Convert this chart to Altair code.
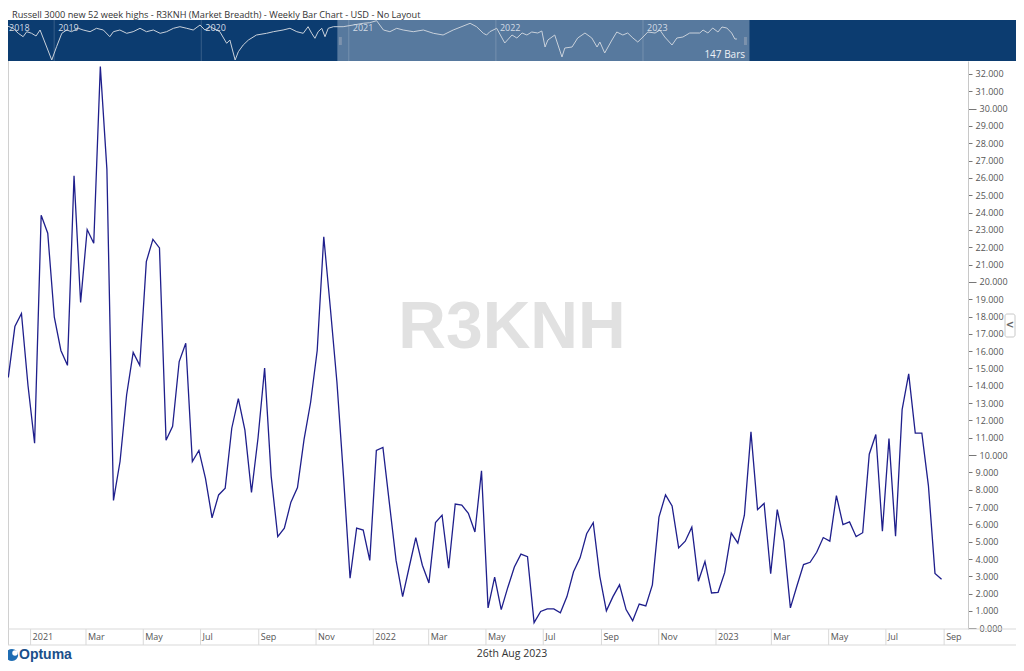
import altair as alt
import pandas as pd

# ---------------- data ----------------
title_text = "Russell 3000 new 52 week highs - R3KNH (Market Breadth) - Weekly Bar Chart - USD - No Layout"
watermark_text = "R3KNH"
bars_text = "147 Bars"
cursor_date_text = "26th Aug 2023"
logo_text = "Optuma"

first_week = "2020-12-04"
r3knh_values = [
    14.48, 17.42, 18.17, 14.00, 10.69, 23.84, 22.81, 17.96, 16.04, 15.18,
    26.12, 18.81, 23.02, 22.23, 32.43, 26.51, 7.38, 9.63, 13.47, 15.93,
    15.18, 21.17, 22.45, 21.96, 10.86, 11.66, 15.40, 16.46, 9.63, 10.27,
    8.66, 6.38, 7.70, 8.09, 11.55, 13.26,
    11.44, 7.85, 11.00, 15.03, 8.77, 5.29, 5.78, 7.28, 8.13, 10.91,
    13.05, 16.04, 22.60, 18.49, 14.22, 8.77, 2.89, 5.78, 5.67, 3.92,
    10.27, 10.44, 7.17, 3.92, 1.83, 3.54, 5.24, 3.64, 2.62, 6.10,
    6.53, 3.47, 7.17, 7.11, 6.64, 5.56,
    9.09, 1.18, 2.96, 1.08, 2.36, 3.54, 4.28, 4.13, 0.33, 0.97,
    1.12, 1.12, 0.90, 1.83, 3.26, 4.07, 5.46, 6.10, 3.00, 1.01,
    1.83, 2.51, 1.08, 0.44, 1.40, 1.29, 2.51, 6.42, 7.70, 7.06,
    4.64, 5.03, 5.84, 2.72, 3.86,
    2.04, 2.08, 3.21, 5.50, 4.92, 6.53, 11.34, 6.85, 7.21, 3.15,
    6.85, 5.03, 1.18, 2.46, 3.68, 3.81, 4.39, 5.24, 5.03, 7.66,
    5.99, 6.14, 5.29, 5.52, 10.05, 11.19, 5.61, 10.95, 5.31, 12.62,
    14.69, 11.27, 11.27, 8.24, 3.17, 2.83,
]

month_ticks = [
    "2021-01-01", "2021-03-01", "2021-05-01", "2021-07-01", "2021-09-01", "2021-11-01",
    "2022-01-01", "2022-03-01", "2022-05-01", "2022-07-01", "2022-09-01", "2022-11-01",
    "2023-01-01", "2023-03-01", "2023-05-01", "2023-07-01", "2023-09-01",
]
month_labels = [
    "2021", "Mar", "May", "Jul", "Sep", "Nov",
    "2022", "Mar", "May", "Jul", "Sep", "Nov",
    "2023", "Mar", "May", "Jul", "Sep",
]
y_ticks = list(range(0, 33))

# visible range of the main chart (also the highlighted window in the navigator)
view_start = "2020-12-03 16:00"
view_end = "2023-09-22 04:00"

# navigator (overview) series, relative level as read from the strip
nav_dates = [
    "2018-09-01", "2018-09-21", "2018-10-04", "2018-10-16", "2018-10-25", "2018-11-06",
    "2018-11-17", "2018-11-27", "2018-12-26", "2019-01-07", "2019-01-20", "2019-02-01",
    "2019-02-13", "2019-03-02", "2019-03-14", "2019-03-31", "2019-04-16", "2019-05-03",
    "2019-05-19", "2019-05-28", "2019-06-13", "2019-06-30", "2019-07-16", "2019-08-02",
    "2019-08-18", "2019-09-04", "2019-09-21", "2019-10-07", "2019-10-24", "2019-11-09",
    "2019-11-26", "2019-12-12", "2019-12-29", "2020-01-10", "2020-01-23", "2020-02-16",
    "2020-03-04", "2020-03-12", "2020-03-25", "2020-04-02", "2020-04-14", "2020-04-27",
    "2020-05-17", "2020-06-11", "2020-06-28", "2020-07-22", "2020-08-08", "2020-08-25",
    "2020-09-10", "2020-09-22", "2020-10-01", "2020-10-09", "2020-10-17", "2020-10-26",
    "2020-11-03", "2020-11-11", "2020-11-24", "2020-12-18", "2021-01-12", "2021-02-06",
    "2021-02-22", "2021-03-11", "2021-03-28", "2021-04-13", "2021-04-30", "2021-05-16",
    "2021-06-10", "2021-07-05", "2021-07-30", "2021-08-23", "2021-09-17", "2021-10-04",
    "2021-10-29", "2021-11-14", "2021-12-01", "2021-12-09", "2021-12-17", "2022-01-03",
    "2022-01-23", "2022-02-10", "2022-02-22", "2022-03-07", "2022-03-19", "2022-03-31",
    "2022-04-15", "2022-04-25", "2022-05-03", "2022-05-10", "2022-05-27", "2022-06-14",
    "2022-06-21", "2022-07-09", "2022-07-23", "2022-08-10", "2022-08-27", "2022-09-09",
    "2022-09-16", "2022-09-28", "2022-10-16", "2022-10-28", "2022-11-12", "2022-11-24",
    "2022-12-07", "2022-12-19", "2023-01-01", "2023-01-13", "2023-01-31", "2023-02-12",
    "2023-02-24", "2023-03-14", "2023-03-26", "2023-04-10", "2023-04-27", "2023-05-22",
    "2023-05-30", "2023-06-11", "2023-06-23", "2023-07-06", "2023-07-16", "2023-07-28",
    "2023-08-09", "2023-08-17", "2023-08-22",
]
nav_values = [
    37.0, 33.7, 28.7, 25.3, 30.3, 28.7,
    26.0, 32.0, 2.0, 15.3, 28.7, 32.0,
    30.3, 33.7, 32.0, 30.3, 33.7, 32.0,
    25.3, 30.3, 32.0, 28.7, 30.3, 33.7,
    30.3, 32.0, 28.7, 30.3, 33.7, 35.3,
    33.7, 32.0, 37.0, 32.0, 35.3, 30.3,
    18.7, 22.0, 2.0, 10.3, 17.0, 22.0,
    27.0, 28.7, 30.3, 32.0, 33.7, 30.3,
    28.7, 35.3, 28.7, 23.7, 30.3, 33.7,
    25.3, 33.7, 35.3, 35.3, 37.0, 38.7,
    39.3, 41.3, 32.0, 30.3, 33.7, 32.0,
    30.3, 32.0, 28.7, 27.0, 32.0, 34.7,
    38.7, 35.3, 28.7, 27.0, 30.3, 33.7,
    19.0, 27.0, 24.0, 29.0, 27.0, 30.0,
    29.0, 31.0, 15.0, 22.0, 27.0, 5.0,
    14.0, 15.0, 24.0, 29.0, 24.0, 15.0,
    20.0, 9.0, 22.0, 30.0, 27.0, 29.0,
    24.0, 20.0, 25.0, 30.0, 29.0, 32.0,
    25.0, 17.0, 24.0, 25.0, 29.0, 29.0,
    32.0, 29.0, 34.0, 30.0, 35.0, 34.0,
    29.0, 23.0, 23.0,
]
nav_start = "2018-09-01"
nav_end = "2025-07-17"
nav_year_ticks = ["2019-01-01", "2020-01-01", "2021-01-01", "2022-01-01", "2023-01-01"]
nav_label_dates = ["2018-09-01", "2019-01-01", "2020-01-01", "2021-01-01", "2022-01-01", "2023-01-01"]
nav_labels = ["2018", "2019", "2020", "2021", "2022", "2023"]

# ---------------- styles ----------------
W, H = 960, 568
NAV_DARK = "#0c3c70"
NAV_LIGHT = "#57799e"
LINE_COLOR = "#1f1f8c"
GRID_GREY = "#d9d9d9"
TXT = "#555555"
FONT = "Open Sans"


def dt(s):
    t = pd.Timestamp(s)
    return alt.DateTime(year=t.year, month=t.month, date=t.day, hours=t.hour, minutes=t.minute)


main_x = alt.Scale(domain=[dt(view_start), dt(view_end)])
nav_x = alt.Scale(domain=[dt(nav_start), dt(nav_end)], range=[-3, 1009])

one = pd.DataFrame({"k": [0]})
main_df = pd.DataFrame({
    "date": pd.date_range(first_week, periods=len(r3knh_values), freq="7D"),
    "value": r3knh_values,
})
tick_df = pd.DataFrame({"date": pd.to_datetime(month_ticks), "label": month_labels})
nav_df = pd.DataFrame({"date": pd.to_datetime(nav_dates), "value": nav_values})
nav_year_df = pd.DataFrame({"date": pd.to_datetime(nav_year_ticks)})
nav_lab_df = pd.DataFrame({"date": pd.to_datetime(nav_label_dates), "label": nav_labels})
sel_df = pd.DataFrame({"start": [pd.Timestamp(view_start)], "end": [pd.Timestamp(view_end)]})

# ---------------- layers ----------------
title = alt.Chart(one).mark_text(
    text=title_text, align="left", baseline="alphabetic", fontSize=9.2, font=FONT, color="#333333"
).encode(x=alt.value(4), y=alt.value(-43))

nav_bg = alt.Chart(one).mark_rect(color=NAV_DARK).encode(
    x=alt.value(-3), x2=alt.value(1009), y=alt.value(-41), y2=alt.value(0))

nav_sel = alt.Chart(sel_df).mark_rect(color=NAV_LIGHT).encode(
    x=alt.X("start:T", scale=nav_x, axis=None), x2="end:T", y=alt.value(-41), y2=alt.value(0))

nav_grid = alt.Chart(nav_year_df).mark_rule(color="white", opacity=0.18).encode(
    x=alt.X("date:T", scale=nav_x, axis=None), y=alt.value(-41), y2=alt.value(0))

nav_line = alt.Chart(nav_df).mark_line(color="#c9d1db", strokeWidth=1).encode(
    x=alt.X("date:T", scale=nav_x, axis=None),
    y=alt.Y("value:Q", scale=alt.Scale(domain=[0, 40], range=[1, -39]), axis=None))

nav_text = alt.Chart(nav_lab_df).mark_text(
    align="left", baseline="middle", dx=4, fontSize=9, font=FONT, color="#d3dbe5"
).encode(x=alt.X("date:T", scale=nav_x, axis=None), y=alt.value(-33.5), text="label:N")

handle_l = alt.Chart(sel_df).mark_tick(color="#8c9db3", thickness=3, size=8, xOffset=3).encode(
    x=alt.X("start:T", scale=nav_x, axis=None), y=alt.value(-20))
handle_r = alt.Chart(sel_df).mark_tick(color="#8c9db3", thickness=3, size=8, xOffset=-4).encode(
    x=alt.X("end:T", scale=nav_x, axis=None), y=alt.value(-20))

bars_lab = alt.Chart(one).mark_text(
    text=bars_text, align="right", baseline="middle", fontSize=10, font=FONT, color="#eef2f6"
).encode(x=alt.value(737), y=alt.value(-6))

watermark = alt.Chart(one).mark_text(
    text=watermark_text, align="center", baseline="alphabetic", fontSize=66,
    font="Liberation Sans", fontWeight="bold", color="#e1e1e1"
).encode(x=alt.value(504), y=alt.value(287))

left_border = alt.Chart(one).mark_rule(color="#d0d0d0").encode(
    x=alt.value(0.5), y=alt.value(0), y2=alt.value(584))

row_top = alt.Chart(one).mark_rule(color=GRID_GREY).encode(
    x=alt.value(-3), x2=alt.value(1009), y=alt.value(568))
row_bot = alt.Chart(one).mark_rule(color=GRID_GREY).encode(
    x=alt.value(-3), x2=alt.value(1009), y=alt.value(584))

separators = alt.Chart(tick_df).mark_rule(color=GRID_GREY, xOffset=-4).encode(
    x=alt.X("date:T", scale=main_x, axis=None), y=alt.value(568), y2=alt.value(584))

month_text = alt.Chart(tick_df).mark_text(
    align="left", baseline="middle", dx=-2, fontSize=9, font=FONT, color=TXT
).encode(x=alt.X("date:T", scale=main_x, axis=None), y=alt.value(576), text="label:N")

line = alt.Chart(main_df).mark_line(color=LINE_COLOR, strokeWidth=1.3, clip=True).encode(
    x=alt.X("date:T", scale=main_x, axis=None),
    y=alt.Y("value:Q",
            scale=alt.Scale(domain=[-0.04, 32.75], nice=False, zero=False),
            axis=alt.Axis(orient="right", values=y_ticks, format=".3f", title=None, grid=False,
                          labelFont=FONT, labelFontSize=9, labelColor=TXT, labelPadding=3,
                          labelOverlap=False, labelFlush=False,
                          tickColor="#777777",
                          tickSize={"condition": {"test": "datum.value % 10 === 0", "value": 8}, "value": 4},
                          domainColor="#c8c8c8")),
)

button = alt.Chart(one).mark_rect(fill="white", stroke="#c8c8c8", cornerRadius=2).encode(
    x=alt.value(997), x2=alt.value(1007), y=alt.value(253), y2=alt.value(276))
button_txt = alt.Chart(one).mark_text(
    text="<", align="center", baseline="middle", fontSize=10, fontWeight="bold", font="DejaVu Sans", color="#666666"
).encode(x=alt.value(1002), y=alt.value(264))

logo_icon = alt.Chart(one).mark_circle(size=150, color="#1f6db3", opacity=1).encode(
    x=alt.value(4), y=alt.value(594))
logo_hole = alt.Chart(one).mark_circle(size=30, color="white", opacity=1).encode(
    x=alt.value(7), y=alt.value(592))
logo = alt.Chart(one).mark_text(
    text=logo_text, align="left", baseline="middle", fontSize=14, fontWeight="bold",
    font="Liberation Sans", color="#1b4f8a"
).encode(x=alt.value(11), y=alt.value(594))

cursor_date = alt.Chart(one).mark_text(
    text=cursor_date_text, align="center", baseline="middle", fontSize=10.5, font=FONT, color="#333333"
).encode(x=alt.value(504), y=alt.value(593))

chart = alt.layer(
    nav_bg, nav_sel, nav_grid, nav_line, nav_text, handle_l, handle_r, bars_lab, title,
    watermark, left_border, row_top, row_bot, separators, month_text, line,
    button, button_txt, logo_icon, logo_hole, logo, cursor_date,
).resolve_scale(x="independent", y="independent").properties(
    width=W, height=H,
    padding={"left": 0, "top": 53, "right": 48, "bottom": 33},
    autosize=alt.AutoSizeParams(type="none"),
    background="white",
).configure_view(stroke=None)

chart.save("out.html", embed_options={"renderer": "svg", "actions": False})
